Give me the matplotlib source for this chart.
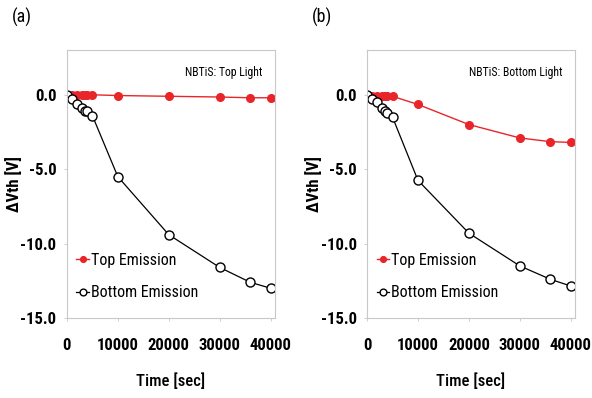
import matplotlib
matplotlib.use("Agg")
import matplotlib.pyplot as plt

plt.rcParams['font.family'] = ['Roboto Condensed', 'Archivo Narrow', 'Liberation Sans', 'DejaVu Sans']

# Stress time (sec)
time_sec = [0, 1000, 2000, 3000, 3500, 4000, 5000, 10000, 20000, 30000, 36000, 40000]

# (a) NBTiS: Top Light
a_top = [0, 0, 0, 0, 0, 0, 0, -0.05, -0.1, -0.15, -0.2, -0.2]
a_bottom = [0, -0.3, -0.65, -0.9, -1.1, -1.1, -1.4, -5.5, -9.4, -11.6, -12.6, -13.0]

# (b) NBTiS: Bottom Light
b_top = [0, -0.05, -0.1, -0.1, -0.1, -0.1, -0.1, -0.65, -2.0, -2.9, -3.15, -3.2]
b_bottom = [0, -0.25, -0.5, -0.9, -1.1, -1.2, -1.5, -5.75, -9.3, -11.5, -12.4, -12.85]

panels = [("(a)", "NBTiS: Top Light", a_top, a_bottom, 0.113),
          ("(b)", "NBTiS: Bottom Light", b_top, b_bottom, 0.620)]

red = '#e8262a'

fig = plt.figure(figsize=(5.92, 3.98), dpi=100)

for tag, note, top, bottom, left in panels:
    ax = fig.add_axes([left, 0.201, 0.351, 0.673])
    ax.plot(time_sec, top, color=red, lw=1.0, marker='o', ms=5.5,
            mfc=red, mec=red, label='Top Emission')
    ax.plot(time_sec, bottom, color='black', lw=0.9, marker='o', ms=6.5,
            mfc='white', mec='black', mew=1.0, label='Bottom Emission')
    ax.set_xlim(0, 40800)
    ax.set_ylim(-15, 3)
    ax.set_xticks([0, 10000, 20000, 30000, 40000])
    ax.set_yticks([-15, -10, -5, 0])
    ax.set_yticklabels(['-15.0', '-10.0', '-5.0', '0.0'])
    ax.tick_params(axis='x', length=2.5, width=0.6, color='#c8c8c8',
                   labelsize=12, pad=12)
    ax.tick_params(axis='y', length=2.5, width=0.6, color='#c8c8c8',
                   labelsize=12, pad=5)
    for lab in ax.get_xticklabels() + ax.get_yticklabels():
        lab.set_fontweight('bold')
    for s in ax.spines.values():
        s.set_color('#c8c8c8')
        s.set_linewidth(0.8)
    ax.set_xlabel('Time [sec]', fontsize=12, fontweight='medium', labelpad=14)
    ax.set_ylabel('\u0394Vth [V]', fontsize=12, fontweight='bold', labelpad=-1)
    ax.text(0.94, 0.917, note, transform=ax.transAxes, ha='right', va='center',
            fontsize=8.5)
    ax.legend(loc='lower left', bbox_to_anchor=(0.0, 0.03), frameon=False,
              fontsize=11.5, handlelength=0.8, handletextpad=0.1,
              labelspacing=1.1, borderaxespad=0.2, markerscale=0.75)
    fig.text(left - 0.093, 0.955, tag, fontsize=13, ha='left', va='center')

fig.savefig('out.png', dpi=100)
